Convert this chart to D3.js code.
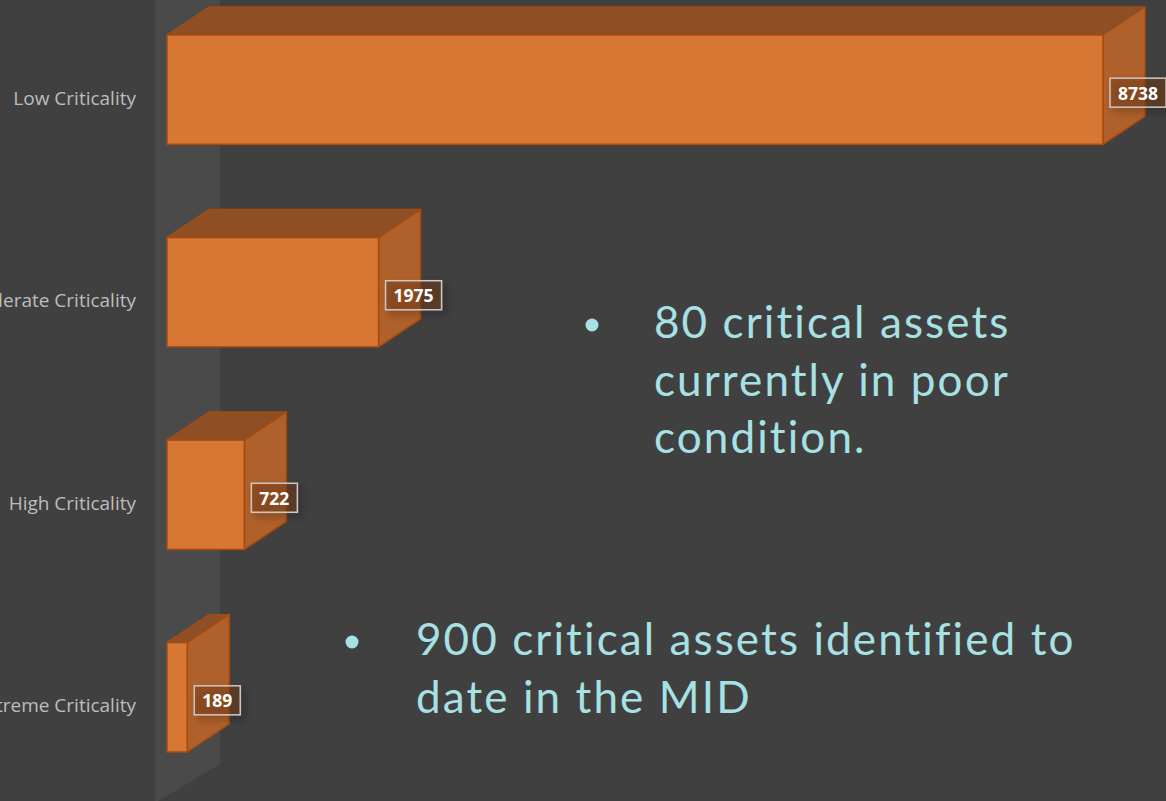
<!DOCTYPE html>
<html>
<head>
<meta charset="utf-8">
<script src="https://cdn.jsdelivr.net/npm/d3@7"></script>
<style>
  body { margin: 0; background: #404040; overflow: hidden; }
</style>
</head>
<body>
<div id="chart"></div>
<script>
// chart data
var categories = ["Low Criticality", "Moderate Criticality", "High Criticality", "Extreme Criticality"];
var counts = [8738, 1975, 722, 189];
var bullets = [
  ["80 critical assets", "currently in poor", "condition."],
  ["900 critical assets identified to", "date in the MID"]
];

var width = 1166, height = 801;
var depthX = 42, depthY = -28;

var svg = d3.select("#chart")
  .append("svg")
  .attr("width", width)
  .attr("height", height);

var defs = svg.append("defs");
var shadow = defs.append("filter")
  .attr("id", "shadow")
  .attr("x", "-50%").attr("y", "-50%")
  .attr("width", "200%").attr("height", "200%");
shadow.append("feDropShadow")
  .attr("dx", 4).attr("dy", 4)
  .attr("stdDeviation", 4)
  .attr("flood-color", "#000")
  .attr("flood-opacity", 0.4);

var x = d3.scaleLinear()
  .domain([0, d3.max(counts)])
  .range([167, 1103]);

var y = d3.scaleBand()
  .domain(categories)
  .range([35, 752])
  .paddingInner(0.46)
  .paddingOuter(0);

// side wall of the 3d plot
var x0 = x(0);
svg.append("path")
  .attr("fill", "#4b4a4a")
  .attr("d", "M" + (x0 - 12) + ",0 L" + (x0 + 53) + ",0 L" + (x0 + 53) + ",764 L" + (x0 - 12) + ",803 Z");

// category labels (the long ones run off the left edge, as in the slide)
svg.selectAll(".cat")
  .data(categories)
  .enter()
  .append("text")
  .attr("class", "cat")
  .attr("x", 136)
  .attr("y", function(d) { return y(d) + y.bandwidth() / 2 + 10; })
  .attr("text-anchor", "end")
  .attr("dominant-baseline", "middle")
  .style("font-family", "Open Sans")
  .style("font-size", "19px")
  .style("fill", "#bdbdbd")
  .text(function(d) { return d; });

// 3d bars
var bars = svg.selectAll(".bar")
  .data(categories)
  .enter()
  .append("g")
  .attr("class", "bar");

bars.append("path")  // top face
  .attr("fill", "#8e4f25")
  .attr("stroke", "#a24c12")
  .attr("stroke-width", 1.5)
  .attr("stroke-linejoin", "round")
  .attr("d", function(d, i) {
    var l = x(0), r = x(counts[i]), t = y(d);
    return "M" + l + "," + t + " L" + (l + depthX) + "," + (t + depthY) +
      " L" + (r + depthX) + "," + (t + depthY) + " L" + r + "," + t + " Z";
  });

bars.append("path")  // side face
  .attr("fill", "#b0612b")
  .attr("stroke", "#a24c12")
  .attr("stroke-width", 1.5)
  .attr("stroke-linejoin", "round")
  .attr("d", function(d, i) {
    var r = x(counts[i]), t = y(d), b = y(d) + y.bandwidth();
    return "M" + r + "," + t + " L" + (r + depthX) + "," + (t + depthY) +
      " L" + (r + depthX) + "," + (b + depthY) + " L" + r + "," + b + " Z";
  });

bars.append("rect")  // front face
  .attr("fill", "#d87633")
  .attr("stroke", "#a24c12")
  .attr("stroke-width", 1.5)
  .attr("x", x(0))
  .attr("y", function(d) { return y(d); })
  .attr("width", function(d, i) { return x(counts[i]) - x(0); })
  .attr("height", y.bandwidth());

// value labels
var vals = svg.selectAll(".val")
  .data(categories)
  .enter()
  .append("g")
  .attr("class", "val")
  .attr("transform", function(d, i) {
    return "translate(" + (x(counts[i]) + 7) + "," + (y(d) + y.bandwidth() / 2 + 3) + ")";
  });

vals.append("rect")
  .attr("class", "box")
  .attr("fill", "rgba(115,60,28,0.45)")
  .attr("stroke", "#cfc6c0")
  .attr("stroke-width", 1.5)
  .attr("filter", "url(#shadow)");

vals.append("text")
  .attr("dominant-baseline", "central")
  .style("font-family", "Open Sans")
  .style("font-weight", "bold")
  .style("font-size", "17.5px")
  .style("fill", "#ffffff")
  .text(function(d, i) { return counts[i]; });

vals.each(function() {
  var g = d3.select(this);
  var w = g.select("text").node().getComputedTextLength();
  g.select("text").attr("x", 8);
  g.select("rect")
    .attr("x", 0).attr("y", -14.5)
    .attr("width", w + 16).attr("height", 29);
});

// bullet notes
var notes = [
  { x: 654, y: 338, bx: 592, lines: bullets[0] },
  { x: 416, y: 655, bx: 352, lines: bullets[1] }
];

notes.forEach(function(n) {
  svg.append("circle")
    .attr("cx", n.bx)
    .attr("cy", n.y - 13)
    .attr("r", 6.5)
    .attr("fill", "#a8e1e4");
  var t = svg.append("text")
    .attr("x", n.x)
    .attr("y", n.y)
    .style("font-family", "Lato")
    .style("font-weight", 400)
    .style("font-size", "44px")
    .style("letter-spacing", "2.1px")
    .style("font-variant-ligatures", "none")
    .style("fill", "#a8e1e4");
  n.lines.forEach(function(line, i) {
    t.append("tspan")
      .attr("x", n.x)
      .attr("dy", i == 0 ? 0 : 57.5)
      .text(line);
  });
});
</script>
</body>
</html>
